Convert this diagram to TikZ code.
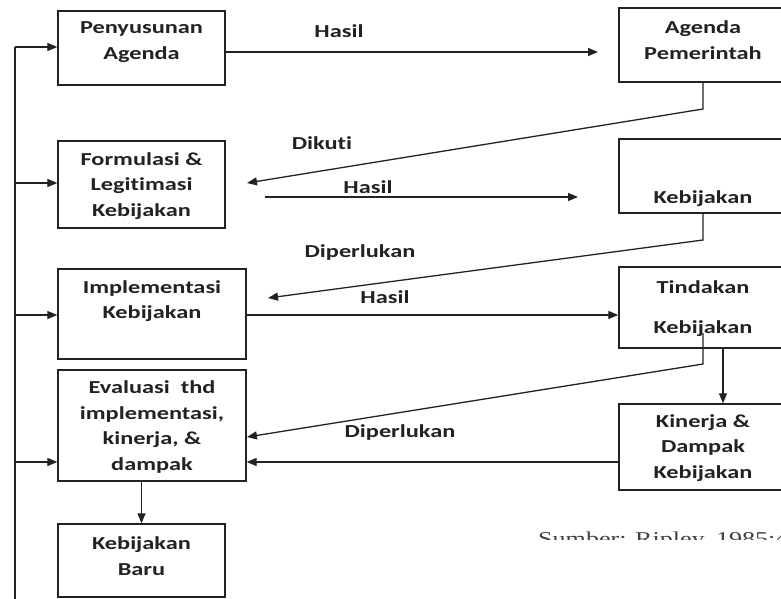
\documentclass[tikz,border=0pt]{standalone}
\usepackage{fontspec}
\usetikzlibrary{arrows.meta,calc}
\newfontfamily\bxfont{Carlito}[FakeStretch=1.33, RawFeature={-liga;-calt}]
\newfontfamily\srcfont{Liberation Serif}[FakeStretch=1.33]
\definecolor{ink}{HTML}{222222}
\tikzset{
  box/.style={draw=ink, line width=1.4pt, inner sep=0pt},
  txt/.style={font=\bxfont\bfseries\fontsize{18.3}{25.5}\selectfont, text=ink, align=center, inner sep=0pt},
  lbl/.style={font=\bxfont\bfseries\fontsize{18.3}{25.5}\selectfont, text=ink, inner sep=0pt},
  con/.style={draw=ink, line width=1.3pt},
  arr/.style={con, -{Triangle[length=10pt,width=8pt]}},
}
\begin{document}
\begin{tikzpicture}[x=1pt,y=-1pt]
\useasboundingbox (0,0) rectangle (781,598);
\begin{scope}
\clip (0,0) rectangle (781,598);
% left boxes
\node[box, minimum width=167, minimum height=74] (A) at (141.5,48) {};
\node[txt] (At) at (141.5,42) {Penyusunan\\Agenda};
\node[box, minimum width=167, minimum height=87] (F) at (141.5,184.5) {};
\node[txt] (Ft) at (141.5,186) {Formulasi \&\\Legitimasi\\Kebijakan};
\node[box, minimum width=188, minimum height=90] (I) at (152,314) {};
\node[txt] (It) at (152,301) {Implementasi\\Kebijakan};
\node[box, minimum width=188, minimum height=111] (E) at (152,425.5) {};
\node[txt] (Et) at (152,427) {Evaluasi~ thd\\implementasi,\\kinerja, \&\\dampak};
\node[box, minimum width=167, minimum height=73] (B) at (141.5,560.5) {};
\node[txt] (Bt) at (141.5,556) {Kebijakan\\Baru};
% right boxes
\node[box, minimum width=168, minimum height=74] (AP) at (703,45) {};
\node[txt] (APt) at (703,40) {Agenda\\Pemerintah};
\node[box, minimum width=168, minimum height=74] (K) at (703,176) {};
\node[txt] (Kt) at (703,199) {Kebijakan};
\node[box, minimum width=168, minimum height=81] (T) at (703,307.5) {};
\node[txt] (Tt) at (703,287) {Tindakan};
\node[txt] (Tt2) at (703,329) {Kebijakan};
\node[box, minimum width=168, minimum height=86] (KD) at (703,447) {};
\node[txt] (KDt) at (703,448) {Kinerja \&\\Dampak\\Kebijakan};
% labels
\node[lbl] (l1) at (339,31) {Hasil};
\node[lbl] (l2) at (322,143) {Dikuti};
\node[lbl] (l3) at (368,187) {Hasil};
\node[lbl] (l4) at (360,253) {Diperlukan};
\node[lbl] (l5) at (385,297) {Hasil};
\node[lbl] (l6) at (400,433) {Diperlukan};
% coordinates
\coordinate (c1) at (598,52);
\coordinate (d1) at (703,109);
\coordinate (d2) at (247,183);
\coordinate (h2a) at (265,197);
\coordinate (h2b) at (578,197);
\coordinate (p1) at (703,240);
\coordinate (p2) at (268,298);
\coordinate (q0) at (703,333);
\coordinate (q1) at (703,364);
\coordinate (q2) at (247,437);
\coordinate (r1) at (0,462);
\coordinate (s1) at (723,0);
\coordinate (L0) at (15,600);
\coordinate (L1) at (15,47);
\coordinate (L2) at (15,183);
\coordinate (L3) at (15,315);
\coordinate (L4) at (15,462);
% connectors
\draw[arr] (A.east |- c1) -- (c1);
\draw[arr] (AP.south) -- (d1) -- (d2);
\draw[arr] (h2a) -- (h2b);
\draw[arr] (K.south) -- (p1) -- (p2);
\draw[arr] (I.east |- L3) -- (T.west |- L3);
\draw[arr] (q0) -- (q1) -- (q2);
\draw[arr] (KD.west |- r1) -- (E.east |- r1);
\draw[arr] (T.south -| s1) -- (KD.north -| s1);
\draw[arr] (E.south -| B.north) -- (B.north);
\draw[con, line width=1.6pt] (L0) -- (L1);
\draw[arr] (L1) -- (A.west |- L1);
\draw[arr] (L2) -- (F.west |- L2);
\draw[arr] (L3) -- (I.west |- L3);
\draw[arr] (L4) -- (E.west |- L4);
\end{scope}
\begin{scope}
\clip (500,520) rectangle (781,539.5);
\node[font=\srcfont\fontsize{19.6}{21}\selectfont, text=black!75, anchor=base west, inner sep=0pt] (src) at (538,545) {Sumber: Ripley, 1985:49};
\end{scope}
\end{tikzpicture}
\end{document}
